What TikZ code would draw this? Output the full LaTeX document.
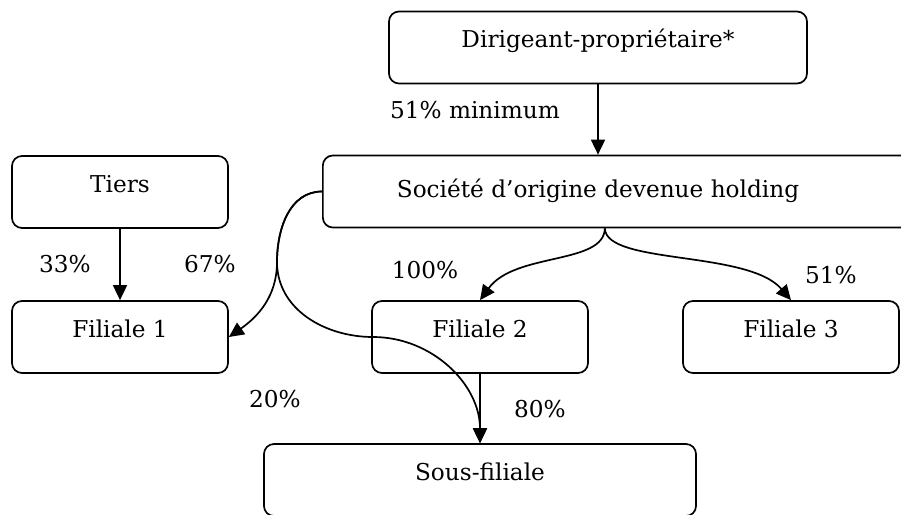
\documentclass[tikz,border=0pt]{standalone}
\usepackage{fontspec}
\setmainfont{DejaVu Serif}
\usetikzlibrary{arrows.meta}
\begin{document}
\begin{tikzpicture}[x=1pt,y=-1pt,
  txt/.style={font=\fontsize{23.2}{27}\selectfont, inner sep=0pt},
  box/.style={draw, line width=1.7pt, rounded corners=10pt, minimum height=72pt,
    inner sep=0pt, text height=12pt, text depth=12pt, font=\fontsize{23.2}{27}\selectfont},
  lbl/.style={txt, anchor=base},
  arr/.style={line width=1.7pt, -{Triangle[length=15pt,width=14pt]}}
]
\useasboundingbox (0,0) rectangle (901,514);
\clip (0,0) rectangle (901,514);

\node[box, minimum width=418pt] (dir) at (598,47.5) {Dirigeant-propriétaire*};
\node[box, minimum width=600pt, anchor=west] (hold) at (322,191.5) {};
\node[lbl] (holdt) at (598,197) {Société d’origine devenue holding};
\node[box, minimum width=216pt] (tiers) at (120,192) {Tiers};
\node[box, minimum width=216pt] (f1) at (120,337) {Filiale 1};
\node[box, minimum width=216pt] (f2) at (480,337) {Filiale 2};
\node[box, minimum width=216pt] (f3) at (791,337) {Filiale 3};
\node[box, minimum width=432pt] (sf) at (480,480) {Sous-filiale};

\node[lbl] (l51m) at (475,118) {51\% minimum};
\node[lbl] (l33) at (65,272) {33\%};
\node[lbl] (l67) at (210,272) {67\%};
\node[lbl] (l100) at (425,278) {100\%};
\node[lbl] (l51) at (831,283) {51\%};
\node[lbl] (l20) at (275,407) {20\%};
\node[lbl] (l80) at (540,417) {80\%};

\coordinate (hb) at ([xshift=-18pt]hold.south);
\coordinate (sp) at (277,262);
\coordinate (cr) at (373,337);

\draw[arr] (dir.south) -- (dir.south |- hold.north);
\draw[arr] (tiers.south) -- (f1.north);
\draw[arr] (hb) .. controls (604,265) and (515,252) .. (f2.north);
\draw[arr] (hb) .. controls (606,265) and (748,250) .. (f3.north);
\draw[arr] (hold.west) to[out=180,in=90] (sp) to[out=-90,in=35] (f1.east);
\draw[arr] (hold.west) to[out=180,in=90] (sp) to[out=-90,in=180] (cr) to[out=0,in=90] (sf.north);
\draw[arr] (f2.south) -- (sf.north);
\end{tikzpicture}
\end{document}
